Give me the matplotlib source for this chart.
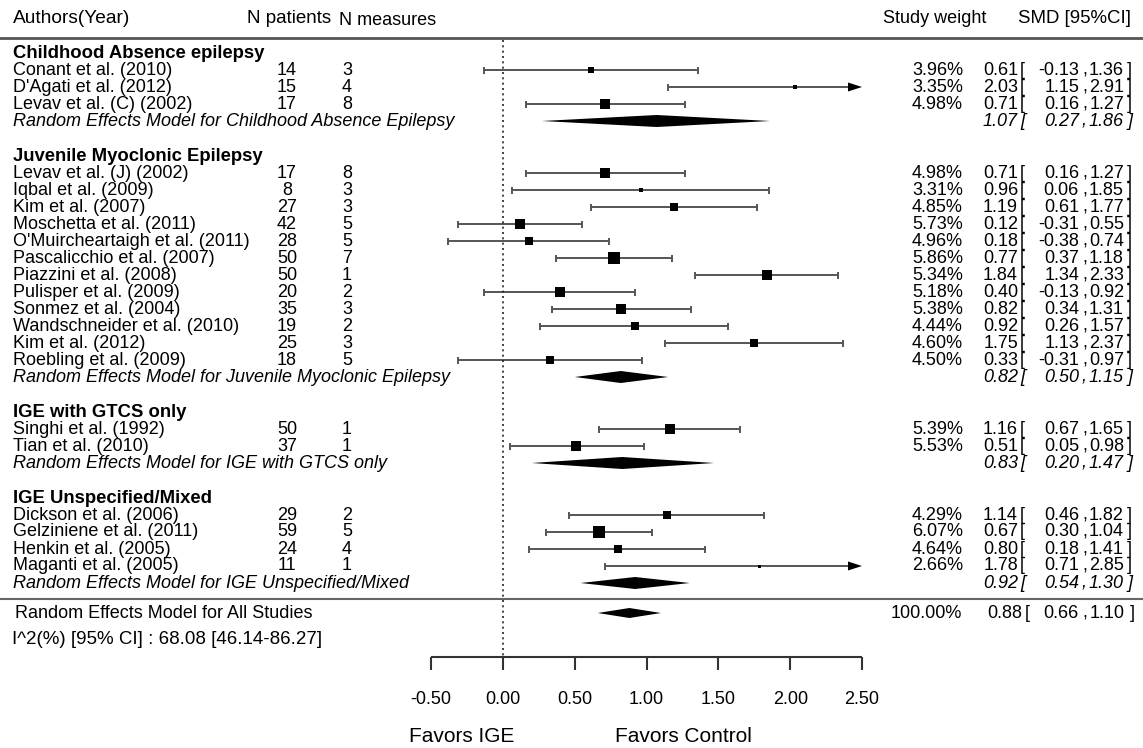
import matplotlib
matplotlib.use('Agg')
import matplotlib.pyplot as plt

plt.rcParams['font.family'] = ['Liberation Sans', 'DejaVu Sans']

# ---- data ----
group_titles = ['Childhood Absence epilepsy', 'Juvenile Myoclonic Epilepsy',
                'IGE with GTCS only', 'IGE Unspecified/Mixed']
re_labels = ['Random Effects Model for Childhood Absence Epilepsy',
             'Random Effects Model for Juvenile Myoclonic Epilepsy',
             'Random Effects Model for IGE with GTCS only',
             'Random Effects Model for IGE Unspecified/Mixed']

cae_names = ['Conant et al. (2010)', "D'Agati et al. (2012)", 'Levav et al. (C) (2002)']
cae_npat = [14, 15, 17]
cae_nmeas = [3, 4, 8]
cae_weight = [3.96, 3.35, 4.98]
cae_smd = [0.61, 2.03, 0.71]
cae_lo = [-0.13, 1.15, 0.16]
cae_hi = [1.36, 2.91, 1.27]

jme_names = ['Levav et al. (J) (2002)', 'Iqbal et al. (2009)', 'Kim et al. (2007)',
             'Moschetta et al. (2011)', "O'Muircheartaigh et al. (2011)",
             'Pascalicchio et al. (2007)', 'Piazzini et al. (2008)', 'Pulisper et al. (2009)',
             'Sonmez et al. (2004)', 'Wandschneider et al. (2010)', 'Kim et al. (2012)',
             'Roebling et al. (2009)']
jme_npat = [17, 8, 27, 42, 28, 50, 50, 20, 35, 19, 25, 18]
jme_nmeas = [8, 3, 3, 5, 5, 7, 1, 2, 3, 2, 3, 5]
jme_weight = [4.98, 3.31, 4.85, 5.73, 4.96, 5.86, 5.34, 5.18, 5.38, 4.44, 4.60, 4.50]
jme_smd = [0.71, 0.96, 1.19, 0.12, 0.18, 0.77, 1.84, 0.40, 0.82, 0.92, 1.75, 0.33]
jme_lo = [0.16, 0.06, 0.61, -0.31, -0.38, 0.37, 1.34, -0.13, 0.34, 0.26, 1.13, -0.31]
jme_hi = [1.27, 1.85, 1.77, 0.55, 0.74, 1.18, 2.33, 0.92, 1.31, 1.57, 2.37, 0.97]

gtcs_names = ['Singhi et al. (1992)', 'Tian et al. (2010)']
gtcs_npat = [50, 37]
gtcs_nmeas = [1, 1]
gtcs_weight = [5.39, 5.53]
gtcs_smd = [1.16, 0.51]
gtcs_lo = [0.67, 0.05]
gtcs_hi = [1.65, 0.98]

mix_names = ['Dickson et al. (2006)', 'Gelziniene et al. (2011)', 'Henkin et al. (2005)',
             'Maganti et al. (2005)']
mix_npat = [29, 59, 24, 11]
mix_nmeas = [2, 5, 4, 1]
mix_weight = [4.29, 6.07, 4.64, 2.66]
mix_smd = [1.14, 0.67, 0.80, 1.78]
mix_lo = [0.46, 0.30, 0.18, 0.71]
mix_hi = [1.82, 1.04, 1.41, 2.85]

re_smd = [1.07, 0.82, 0.83, 0.92]
re_lo = [0.27, 0.50, 0.20, 0.54]
re_hi = [1.86, 1.15, 1.47, 1.30]

all_smd, all_lo, all_hi = 0.88, 0.66, 1.10
i2_text = 'I^2(%) [95% CI] : 68.08 [46.14-86.27]'

xticks = [-0.5, 0.0, 0.5, 1.0, 1.5, 2.0, 2.5]

groups = [
    (cae_names, cae_npat, cae_nmeas, cae_weight, cae_smd, cae_lo, cae_hi),
    (jme_names, jme_npat, jme_nmeas, jme_weight, jme_smd, jme_lo, jme_hi),
    (gtcs_names, gtcs_npat, gtcs_nmeas, gtcs_weight, gtcs_smd, gtcs_lo, gtcs_hi),
    (mix_names, mix_npat, mix_nmeas, mix_weight, mix_smd, mix_lo, mix_hi),
]

# ---- figure ----
W, H = 1143, 748
fig = plt.figure(figsize=(W / 100, H / 100), dpi=100)
ax = fig.add_axes([0, 0, 1, 1])
px_per_unit = 143.6
x_zero = 503
ax.set_xlim(-x_zero / px_per_unit, (W - x_zero) / px_per_unit)
ax.set_ylim(H, 0)
ax.axis('off')
tr = ax.get_yaxis_transform()  # x in axes fraction, y in data


def tx(xpix, y, s, **kw):
    kw.setdefault('fontsize', 13)
    kw.setdefault('va', 'center')
    ax.text(xpix / W, y, s, transform=tr, **kw)


def smd_cols(y, est, lo, hi, fs=13, style='normal', cols=(1018, 1020, 1079, 1082, 1124, 1127)):
    tx(cols[0], y, f'{est:.2f}', ha='right', fontsize=fs, style=style)
    tx(cols[1], y, '[', ha='left', fontsize=fs, style=style)
    tx(cols[2], y, f'{lo:.2f}', ha='right', fontsize=fs, style=style)
    tx(cols[3], y, ',', ha='left', fontsize=fs, style=style)
    tx(cols[4], y, f'{hi:.2f}', ha='right', fontsize=fs, style=style)
    tx(cols[5], y, ']', ha='left', fontsize=fs, style=style)


def diamond(y, est, lo, hi, half):
    ax.fill([lo, est, hi, est], [y, y - half, y, y + half], color='black', lw=0)


line_col = '#555555'
xmax = xticks[-1]
cap = 3.5
dx_head = 14 / px_per_unit

# header
tx(13, 18, 'Authors(Year)', fontsize=13.8)
tx(247, 18, 'N patients', fontsize=13.5)
tx(339, 20, 'N measures')
tx(883, 18, 'Study weight')
tx(1018, 18, 'SMD [95%CI]', fontsize=13.4)
ax.axhline(38, color='#555555', lw=2)

y = 53
for g, (names, npat, nmeas, wts, smd, lo, hi) in enumerate(groups):
    tx(13, y, group_titles[g], fontweight='bold', fontsize=13.3)
    y += 17
    for i in range(len(names)):
        tx(13, y, names[i])
        tx(287, y, str(npat[i]), ha='center')
        tx(347, y, str(nmeas[i]), ha='center')
        tx(963, y, f'{wts[i]:.2f}%', ha='right')
        smd_cols(y, smd[i], lo[i], hi[i])
        right = min(hi[i], xmax)
        ax.hlines(y, lo[i], right - (dx_head if hi[i] > xmax else 0), color=line_col, lw=1.4)
        ax.vlines(lo[i], y - cap, y + cap, color=line_col, lw=1.4)
        if hi[i] > xmax:
            ax.fill([xmax - dx_head, xmax, xmax - dx_head], [y - 4.5, y, y + 4.5],
                    color='black', lw=0)
        else:
            ax.vlines(hi[i], y - cap, y + cap, color=line_col, lw=1.4)
        size_px = 3 + (wts[i] - 2.66) * 2.6
        ax.plot(smd[i], y, marker='s', color='black', markersize=size_px * 0.72, mew=0)
        y += 17
    tx(13, y, re_labels[g], style='italic')
    smd_cols(y, re_smd[g], re_lo[g], re_hi[g], style='italic')
    diamond(y, re_smd[g], re_lo[g], re_hi[g], 6)
    y += 35

# overall
ax.axhline(599, color='#666666', lw=1.5)
tx(15, 613, 'Random Effects Model for All Studies')
tx(962, 613, '100.00%', ha='right')
smd_cols(613, all_smd, all_lo, all_hi, fs=13, cols=(1022, 1025, 1078, 1082, 1125, 1130))
diamond(613, all_smd, all_lo, all_hi, 5)
tx(12, 640, i2_text, fontsize=13.5)

# null line
ax.vlines(0, 40, 657, color='#222222', lw=1.2, linestyles=(0, (1.2, 2)))

# x axis
ax.hlines(657, xticks[0], xticks[-1], color='#333333', lw=1.5)
for t in xticks:
    ax.vlines(t, 657, 670, color='#333333', lw=1.5)
    ax.text(t, 699, f'{t:.2f}', ha='center', va='center', fontsize=13)
tx(462, 737, 'Favors IGE', ha='center', fontsize=15)
tx(683, 737, 'Favors Control', ha='center', fontsize=15)

fig.savefig('out.png', dpi=100)
